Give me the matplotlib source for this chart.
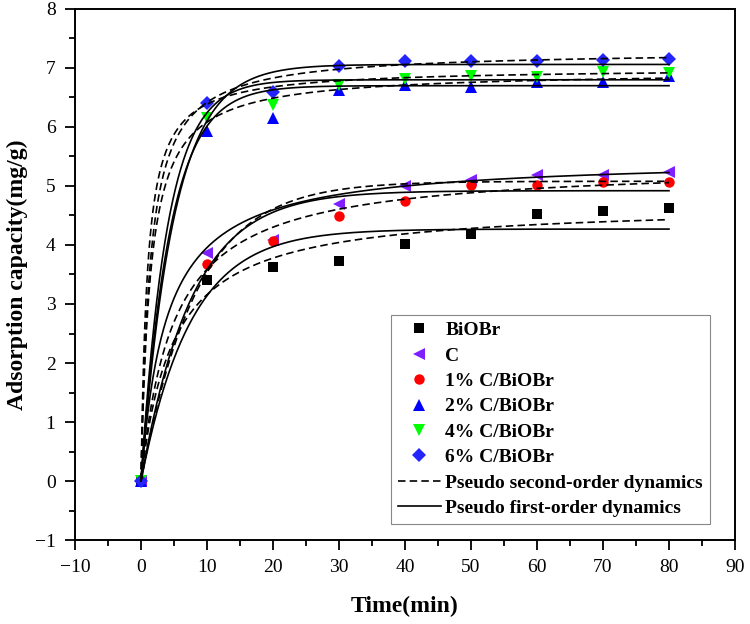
import matplotlib
matplotlib.use('Agg')
import matplotlib.pyplot as plt
import numpy as np
from matplotlib.lines import Line2D
from matplotlib.ticker import MultipleLocator

# measured adsorption data
time = [0, 10, 20, 30, 40, 50, 60, 70, 80]
biobr = [0, 3.41, 3.63, 3.73, 4.01, 4.19, 4.53, 4.57, 4.62]
carbon = [0, 3.86, 4.08, 4.69, 5.00, 5.10, 5.19, 5.19, 5.23]
c1 = [0, 3.67, 4.07, 4.49, 4.75, 5.01, 5.02, 5.06, 5.06]
c2 = [0, 5.93, 6.16, 6.63, 6.71, 6.68, 6.77, 6.77, 6.86]
c4 = [0, 6.16, 6.37, 6.71, 6.81, 6.86, 6.84, 6.93, 6.91]
c6 = [0, 6.40, 6.60, 7.03, 7.11, 7.12, 7.12, 7.14, 7.15]

labels = ['BiOBr', 'C', '1% C/BiOBr', '2% C/BiOBr', '4% C/BiOBr', '6% C/BiOBr']
series = [biobr, carbon, c1, c2, c4, c6]
markers = ['s', '<', 'o', '^', 'v', 'D']
colors = ['black', '#7f1fff', 'red', '#0000ff', '#00ff00', '#2424ff']
msizes = [7, 8.5, 7.5, 8.5, 8.5, 7]

# kinetic fit parameters (model, qe, k)
solid_fits = [('pfo', 4.27, 0.133), ('pso', 5.48, 0.0474), ('pfo', 4.92, 0.13),
              ('pfo', 6.70, 0.228), ('pfo', 6.80, 0.25), ('pfo', 7.06, 0.20)]
dashed_fits = [('pso', 4.70, 0.0436), ('pfo', 5.08, 0.119), ('pso', 5.37, 0.0375),
               ('pso', 6.95, 0.101), ('pso', 7.00, 0.149), ('pso', 7.30, 0.0995)]


def model(kind, t, qe, k):
    if kind == 'pfo':
        return qe * (1 - np.exp(-k * t))
    return qe * qe * k * t / (1 + qe * k * t)


plt.rcParams['font.family'] = ['Liberation Serif', 'DejaVu Serif']

fig = plt.figure(figsize=(7.5, 6.24), dpi=100)
ax = fig.add_axes([0.1, 0.1346, 0.88, 0.851])

for y, lab, m, c, s in zip(series, labels, markers, colors, msizes):
    ax.plot(time, y, linestyle='none', marker=m, color=c, markersize=s,
            markeredgewidth=0, label=lab, zorder=2)

tt = np.linspace(0, 80, 400)
for kind, qe, k in dashed_fits:
    ax.plot(tt, model(kind, tt, qe, k), color='black', lw=1.2,
            dashes=(4.5, 2.5), zorder=3)
for kind, qe, k in solid_fits:
    ax.plot(tt, model(kind, tt, qe, k), color='black', lw=1.2, zorder=3)

ax.set_xlim(-10, 90)
ax.set_ylim(-1, 8)
ax.xaxis.set_major_locator(MultipleLocator(10))
ax.xaxis.set_minor_locator(MultipleLocator(5))
ax.yaxis.set_major_locator(MultipleLocator(1))
ax.yaxis.set_minor_locator(MultipleLocator(0.5))
ax.tick_params(which='major', direction='out', length=7, width=1.3,
               labelsize=14, pad=7)
ax.tick_params(which='minor', direction='out', length=4, width=1.3)
for sp in ax.spines.values():
    sp.set_linewidth(1.4)

ax.set_xlabel('Time(min)', fontsize=17, fontweight='bold', labelpad=14)
ax.set_ylabel('Adsorption capacity(mg/g)', fontsize=17, fontweight='bold', labelpad=5)

handles, labs = ax.get_legend_handles_labels()
handles += [Line2D([], [], color='black', lw=1.2, dashes=(4.5, 2.5)),
            Line2D([], [], color='black', lw=1.2)]
labs += ['Pseudo second-order dynamics', 'Pseudo first-order dynamics']
leg = ax.legend(handles, labs, loc='upper right', bbox_to_anchor=(0.962, 0.424),
                borderaxespad=0, fancybox=False, framealpha=1, edgecolor='#888888',
                prop={'weight': 'bold', 'size': 14}, handlelength=2.2,
                handletextpad=0.25, labelspacing=0.4, borderpad=0.35)
leg.get_frame().set_linewidth(0.8)

fig.savefig('out.png', dpi=100)
